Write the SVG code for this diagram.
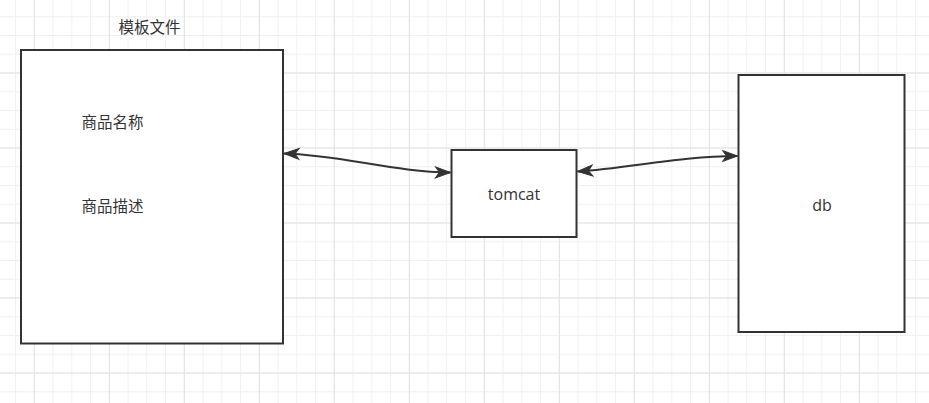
<svg xmlns="http://www.w3.org/2000/svg" width="929" height="403" viewBox="0 0 929 403">
  <style>
    .box { fill: #ffffff; stroke: #333333; stroke-width: 2; }
    .cn { font-family: "Noto Sans CJK SC", "Microsoft YaHei", sans-serif; font-size: 15.5px; fill: #333333; text-anchor: middle; dominant-baseline: central; }
    .en { font-family: "Open Sans", "Noto Sans", sans-serif; font-size: 16px; fill: #333333; text-anchor: middle; }
    .edge { fill: none; stroke: #333333; stroke-width: 2; marker-start: url(#arrow); marker-end: url(#arrow); }
  </style>
  <defs>
    <pattern id="gridMinor" patternUnits="userSpaceOnUse" x="24.925" y="63.625" width="18.75" height="18.75">
      <path d="M9.375,0 V18.75 M0,9.375 H18.75" stroke="#f0f0f0" stroke-width="1" fill="none"/>
    </pattern>
    <pattern id="gridMajor" patternUnits="userSpaceOnUse" x="-3.2" y="35.5" width="75" height="75">
      <path d="M37.5,0 V75 M0,37.5 H75" stroke="#e2e2e2" stroke-width="1" fill="none"/>
    </pattern>
    <marker id="arrow" markerUnits="userSpaceOnUse" markerWidth="20" markerHeight="14" refX="16.5" refY="7" orient="auto-start-reverse">
      <path d="M1.5,1.5 L16.5,7 L1.5,12.5 L5.5,7 Z" fill="#333333" stroke="#333333" stroke-width="1" stroke-linejoin="miter"/>
    </marker>
  </defs>
  <rect x="0" y="0" width="929" height="403" fill="#ffffff"/>
  <rect x="0" y="0" width="929" height="403" fill="url(#gridMinor)"/>
  <rect x="0" y="0" width="929" height="403" fill="url(#gridMajor)"/>

  <g id="connectors">
    <path id="edge-template-tomcat" class="edge" d="M284,153.5 C340,155 395,172 450.5,172.5"/>
    <path id="edge-tomcat-db" class="edge" d="M577.5,171.5 C630,168 680,156 737.5,156"/>
  </g>

  <g id="node-template">
    <rect class="box" x="21" y="50" width="262" height="293.5"/>
    <text class="cn" x="149.5" y="25.5">模板文件</text>
    <text class="cn" x="112.5" y="120.5">商品名称</text>
    <text class="cn" x="112.5" y="205">商品描述</text>
  </g>

  <g id="node-tomcat">
    <rect class="box" x="451.5" y="150" width="125" height="87"/>
    <text class="en" x="514" y="200">tomcat</text>
  </g>

  <g id="node-db">
    <rect class="box" x="738.5" y="75" width="166" height="257"/>
    <text class="en" x="822" y="210.5">db</text>
  </g>
</svg>
